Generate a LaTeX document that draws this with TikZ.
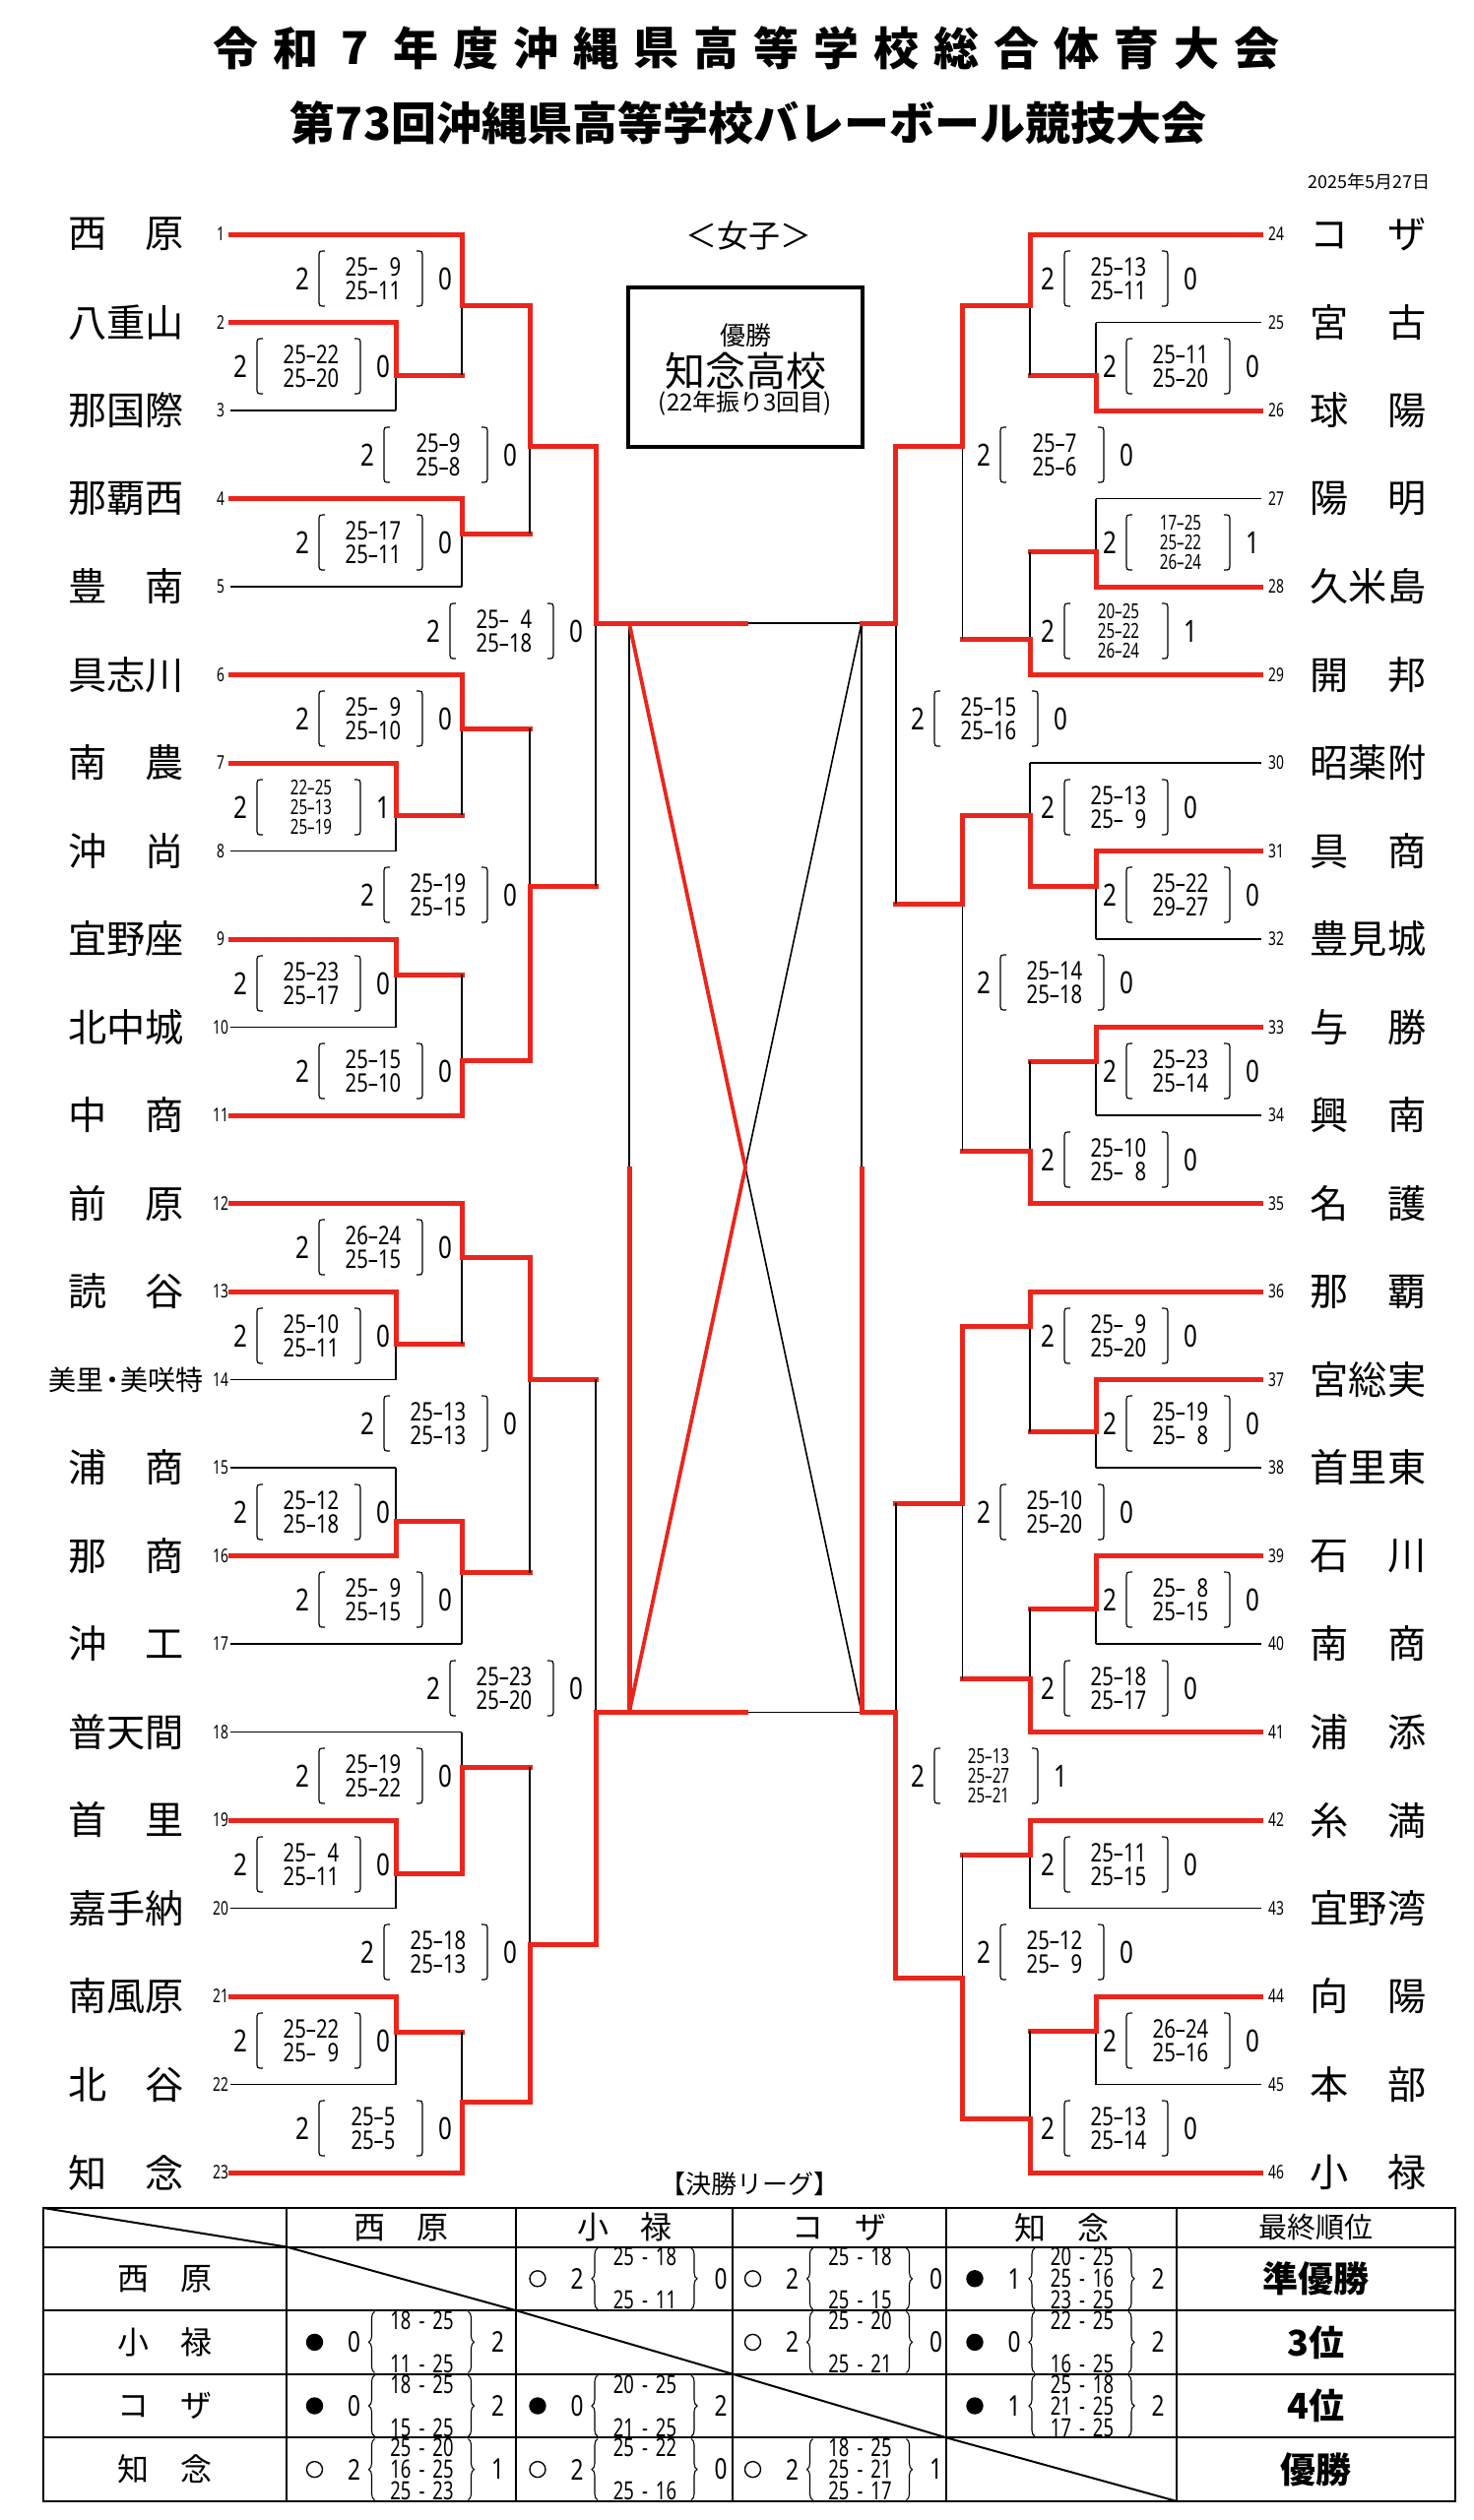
\documentclass[tikz,border=0pt]{standalone}
\usepackage{fontspec}
\setmainfont{Noto Sans CJK JP}
\newfontfamily\numf{Noto Sans}[FakeStretch=0.78]
\newfontfamily\numn{Noto Sans}[FakeStretch=0.72]
\usetikzlibrary{decorations.pathreplacing}
\definecolor{brred}{RGB}{234,38,28}
\tikzset{
  win/.style={draw=brred, line width=2.5pt, line cap=rect},
  lose/.style={draw=black, line width=0.8pt},
  paren/.style={draw=black, line width=0.6pt},
  teamname/.style={inner sep=0pt, font=\fontsize{19.6}{20}\selectfont},
  seednum/.style={inner sep=0pt, font=\numn\fontsize{9.6}{10}\selectfont},
  setnum/.style={inner sep=0pt, font=\numf\fontsize{15.5}{15.5}\selectfont},
  scoreii/.style={inner sep=0pt, align=center, font=\numf\fontsize{13}{12}\selectfont},
  scoreiii/.style={inner sep=0pt, align=center, font=\numn\fontsize{10.5}{10}\selectfont},
  titlechar/.style={inner sep=0pt, font=\bfseries\fontsize{23}{23}\selectfont},
  grid/.style={draw=black, line width=1pt},
  lgnum/.style={inner sep=0pt, font=\numf\fontsize{14.5}{14.5}\selectfont},
  lgscore/.style={inner sep=0pt, align=center, font=\numn\fontsize{12.8}{11}\selectfont},
  lgbrace/.style={draw=black, line width=0.55pt, decorate, decoration={brace, amplitude=3pt}},
  lgname/.style={inner sep=0pt, font=\fontsize{16}{16}\selectfont},
  rank/.style={inner sep=0pt, font=\bfseries\fontsize{18}{18}\selectfont},
}
\newcommand{\sd}{\phantom{0}}
\newcommand{\hy}{\hspace{4pt}-\hspace{4pt}}
\newcommand{\misaki}{{\fontsize{14}{14}\selectfont 美里\kern-.2em・\kern-.2em美咲特}}
\newcommand{\game}[6]{%
  \coordinate (#1) at (#2,#3);
  \draw[#6] (#5) -- (#5 -| #1);
  \draw[lose] (#5 -| #1) -- (#1);
  \draw[win] (#4) -| (#1);
}
\newcommand{\setres}[7]{%
  \node[setnum] (#1w) at (#2-72,#3) {#5};
  \node[setnum] (#1l) at (#2+73,#3) {#6};
  \node[#4] (#1s) at (#2,#3) {#7};
  \draw[paren] (#2-49,#3-28) .. controls (#2-55,#3-28) .. (#2-55,#3-21) -- (#2-55,#3+21) .. controls (#2-55,#3+28) .. (#2-49,#3+28);
  \draw[paren] (#2+44,#3-28) .. controls (#2+50,#3-28) .. (#2+50,#3-21) -- (#2+50,#3+21) .. controls (#2+50,#3+28) .. (#2+44,#3+28);
}
\newcommand{\lgcell}[7]{%
  \draw[line width=0.7pt, fill=#4] (#2-88,#3) circle[radius=8];
  \node[lgnum] (#1a) at (#2-48,#3) {#5};
  \node[lgnum] (#1b) at (#2+98,#3) {#6};
  \node[lgscore] (#1s) at (#2+21,#3) {#7};
  \draw[lgbrace] (#2-27,#3+31) -- (#2-27,#3-31);
  \draw[lgbrace] (#2+68,#3-31) -- (#2+68,#3+31);
}
\begin{document}
\begin{tikzpicture}[x=0.5pt, y=-0.5pt]
\useasboundingbox (0,0) rectangle (1497,2560);

\foreach \c [count=\i] in {令,和,7,年,度,沖,縄,県,高,等,学,校,総,合,体,育,大,会}
  \node[titlechar] (h\i) at ({239+61*(\i-1)},49) {\c};
\node[titlechar] (subtitle) at (760,125) {第73回沖縄県高等学校バレーボール競技大会};
\node[inner sep=0pt, anchor=east, font=\fontsize{9}{9}\selectfont] (date) at (1453,185) {2025年5月27日};
\node[inner sep=0pt, font=\fontsize{16}{16}\selectfont] (girls) at (760,239) {＜女子＞};

\node[draw, line width=1.6pt, minimum width=119pt, minimum height=81pt, inner sep=0pt] (champ) at (757,373) {};
\node[inner sep=0pt, font=\fontsize{13}{13}\selectfont] (yusho) at (757,341) {優勝};
\node[inner sep=0pt, font=\fontsize{20.5}{20.5}\selectfont] (champname) at (757,377) {知念高校};
\node[inner sep=0pt, font=\fontsize{12}{12}\selectfont] (champnote) at (757,410) {(22年振り3回目)};

\foreach \nm [count=\i] in {西　原,八重山,那国際,那覇西,豊　南,具志川,南　農,沖　尚,宜野座,北中城,中　商,前　原,読　谷,\misaki,浦　商,那　商,沖　工,普天間,首　里,嘉手納,南風原,北　谷,知　念}{
  \coordinate (t\i) at (234,{238+89.5*(\i-1)});
  \node[teamname] (n\i) at (128,{238+89.5*(\i-1)}) {\nm};
  \node[seednum] (s\i) at (224,{238+89.5*(\i-1)}) {\i};
}
\foreach \nm [count=\i from 24] in {コ　ザ,宮　古,球　陽,陽　明,久米島,開　邦,昭薬附,具　商,豊見城,与　勝,興　南,名　護,那　覇,宮総実,首里東,石　川,南　商,浦　添,糸　満,宜野湾,向　陽,本　部,小　禄}{
  \coordinate (t\i) at (1280.5,{238+89.5*(\i-24)});
  \node[teamname] (n\i) at (1389.5,{238+89.5*(\i-24)}) {\nm};
  \node[seednum] (s\i) at (1296,{238+89.5*(\i-24)}) {\i};
}

\game{mA}{402}{381}{t2}{t3}{lose}
\game{mB}{469}{310}{t1}{mA}{win}
\game{mC}{469}{542}{t4}{t5}{lose}
\game{mD}{538}{453}{mB}{mC}{win}
\game{mG}{402}{828}{t7}{t8}{lose}
\game{mF}{469}{740}{t6}{mG}{win}
\game{mH}{402}{990}{t9}{t10}{lose}
\game{mI}{469}{1077}{t11}{mH}{win}
\game{mJ}{538}{900}{mI}{mF}{win}
\game{mK}{605}{633}{mD}{mJ}{win}
\game{mL}{402}{1365}{t13}{t14}{lose}
\game{mM}{469}{1277}{t12}{mL}{win}
\game{mN}{402}{1545}{t16}{t15}{lose}
\game{mO}{469}{1597.5}{mN}{t17}{lose}
\game{mP}{538}{1401}{mM}{mO}{win}
\game{mQ}{402}{1903}{t19}{t20}{lose}
\game{mR}{469}{1795}{mQ}{t18}{lose}
\game{mS}{402}{2064}{t21}{t22}{lose}
\game{mT}{469}{2135}{t23}{mS}{win}
\game{mU}{538}{1975.4}{mT}{mR}{win}
\game{mV}{605}{1739.5}{mU}{mP}{win}

\game{rA}{1113}{381}{t26}{t25}{lose}
\game{rB}{1046}{310}{t24}{rA}{win}
\game{rC}{1113}{560.5}{t28}{t27}{lose}
\game{rD}{1046}{649}{t29}{rC}{win}
\game{rE}{977.6}{453}{rB}{rD}{win}
\game{rF}{1113}{900}{t31}{t32}{lose}
\game{rG}{1046}{828}{rF}{t30}{lose}
\game{rH}{1113}{1078}{t33}{t34}{lose}
\game{rI}{1046}{1169}{t35}{rH}{win}
\game{rJ}{977.6}{918}{rG}{rI}{win}
\game{rK}{909.7}{633}{rE}{rJ}{win}
\game{rL}{1113}{1454.7}{t37}{t38}{lose}
\game{rM}{1046}{1347.5}{t36}{rL}{win}
\game{rN}{1113}{1634}{t39}{t40}{lose}
\game{rO}{1046}{1705.7}{t41}{rN}{win}
\game{rP}{977.6}{1527}{rM}{rO}{win}
\game{rQ}{1046}{1884}{t42}{t43}{lose}
\game{rR}{1113}{2063}{t44}{t45}{lose}
\game{rS}{1046}{2152.6}{t46}{rR}{win}
\game{rT}{977.6}{2009.5}{rS}{rQ}{win}
\game{rU}{909.7}{1739.5}{rT}{rP}{win}

\coordinate (fTL) at (639,633);
\coordinate (fTM) at (757,633);
\coordinate (fTR) at (875,633);
\coordinate (fBL) at (639,1739.5);
\coordinate (fBM) at (757,1739.5);
\coordinate (fBR) at (875,1739.5);
\coordinate (fLM) at (639,1187);
\coordinate (fRM) at (875,1187);
\coordinate (fC) at (757,1186);
\draw[lose] (fTM) -- (fTR);
\draw[lose] (fBM) -- (fBR);
\draw[lose] (fTL) -- (fLM);
\draw[lose] (fTR) -- (fRM);
\draw[lose] (fTR) -- (fC) -- (fBR);
\draw[win] (mK) -- (fTM);
\draw[win] (fTR) -- (rK);
\draw[win] (mV) -- (fBM);
\draw[win] (fBR) -- (rU);
\draw[win] (fLM) -- (fBL);
\draw[win] (fRM) -- (fBR);
\draw[win, line width=1.9pt, line cap=butt] (fTL) -- (fC) -- (fBL);

\setres{sA}{316}{372}{scoreii}{2}{0}{25–22\\25–20}
\setres{sB}{379}{283}{scoreii}{2}{0}{25–\sd9\\25–11}
\setres{sC}{379}{551}{scoreii}{2}{0}{25–17\\25–11}
\setres{sD}{445}{462}{scoreii}{2}{0}{25–9\\25–8}
\setres{sG}{316}{820}{scoreiii}{2}{1}{22–25\\25–13\\25–19}
\setres{sF}{379}{730}{scoreii}{2}{0}{25–\sd9\\25–10}
\setres{sH}{316}{999}{scoreii}{2}{0}{25–23\\25–17}
\setres{sI}{379}{1088}{scoreii}{2}{0}{25–15\\25–10}
\setres{sJ}{445}{909}{scoreii}{2}{0}{25–19\\25–15}
\setres{sK}{512}{641}{scoreii}{2}{0}{25–\sd4\\25–18}
\setres{sL}{316}{1357}{scoreii}{2}{0}{25–10\\25–11}
\setres{sM}{379}{1267}{scoreii}{2}{0}{26–24\\25–15}
\setres{sN}{316}{1536}{scoreii}{2}{0}{25–12\\25–18}
\setres{sO}{379}{1625}{scoreii}{2}{0}{25–\sd9\\25–15}
\setres{sP}{445}{1446}{scoreii}{2}{0}{25–13\\25–13}
\setres{sQ}{316}{1894}{scoreii}{2}{0}{25–\sd4\\25–11}
\setres{sR}{379}{1804}{scoreii}{2}{0}{25–19\\25–22}
\setres{sS}{316}{2073}{scoreii}{2}{0}{25–22\\25–\sd9}
\setres{sT}{379}{2162}{scoreii}{2}{0}{25–5\\25–5}
\setres{sU}{445}{1983}{scoreii}{2}{0}{25–18\\25–13}
\setres{sV}{512}{1715}{scoreii}{2}{0}{25–23\\25–20}

\setres{qA}{1199}{372}{scoreii}{2}{0}{25–11\\25–20}
\setres{qB}{1136}{283}{scoreii}{2}{0}{25–13\\25–11}
\setres{qC}{1199}{551}{scoreiii}{2}{1}{17–25\\25–22\\26–24}
\setres{qD}{1136}{641}{scoreiii}{2}{1}{20–25\\25–22\\26–24}
\setres{qE}{1071}{462}{scoreii}{2}{0}{25–7\\25–6}
\setres{qK}{1004}{730}{scoreii}{2}{0}{25–15\\25–16}
\setres{qG}{1136}{820}{scoreii}{2}{0}{25–13\\25–\sd9}
\setres{qF}{1199}{909}{scoreii}{2}{0}{25–22\\29–27}
\setres{qJ}{1071}{998}{scoreii}{2}{0}{25–14\\25–18}
\setres{qH}{1199}{1088}{scoreii}{2}{0}{25–23\\25–14}
\setres{qI}{1136}{1178}{scoreii}{2}{0}{25–10\\25–\sd8}
\setres{qM}{1136}{1357}{scoreii}{2}{0}{25–\sd9\\25–20}
\setres{qL}{1199}{1446}{scoreii}{2}{0}{25–19\\25–\sd8}
\setres{qP}{1071}{1536}{scoreii}{2}{0}{25–10\\25–20}
\setres{qN}{1199}{1625}{scoreii}{2}{0}{25–\sd8\\25–15}
\setres{qO}{1136}{1715}{scoreii}{2}{0}{25–18\\25–17}
\setres{qU}{1004}{1804}{scoreiii}{2}{1}{25–13\\25–27\\25–21}
\setres{qQ}{1136}{1894}{scoreii}{2}{0}{25–11\\25–15}
\setres{qT}{1071}{1983}{scoreii}{2}{0}{25–12\\25–\sd9}
\setres{qR}{1199}{2073}{scoreii}{2}{0}{26–24\\25–16}
\setres{qS}{1136}{2162}{scoreii}{2}{0}{25–13\\25–14}

\node[inner sep=0pt, font=\fontsize{13}{13}\selectfont] (league) at (761,2219) {【決勝リーグ】};
\draw[grid] (44,2243) rectangle (1478,2540.9);
\foreach \x in {291,524,744,961,1195} \draw[grid] (\x,2243) -- (\x,2540.9);
\foreach \y in {2282.5,2347.1,2411.7,2476.3} \draw[grid] (44,\y) -- (1478,\y);
\draw[grid] (44,2243) -- (291,2282.5) -- (524,2347.1) -- (744,2411.7) -- (961,2476.3) -- (1195,2540.9);

\node[lgname] (hd1) at (407.5,2262.75) {西　原};
\node[lgname] (hd2) at (634,2262.75) {小　禄};
\node[lgname] (hd3) at (852.5,2262.75) {コ　ザ};
\node[lgname] (hd4) at (1078,2262.75) {知　念};
\node[inner sep=0pt, font=\fontsize{14.5}{14.5}\selectfont] (hd5) at (1336.5,2262.75) {最終順位};
\node[lgname] (rw1) at (167.5,2314.8) {西　原};
\node[lgname] (rw2) at (167.5,2379.4) {小　禄};
\node[lgname] (rw3) at (167.5,2444) {コ　ザ};
\node[lgname] (rw4) at (167.5,2508.6) {知　念};
\node[rank] (rk1) at (1336.5,2314.8) {準優勝};
\node[rank] (rk2) at (1336.5,2379.4) {3位};
\node[rank] (rk3) at (1336.5,2444) {4位};
\node[rank] (rk4) at (1336.5,2508.6) {優勝};

\lgcell{c12}{634}{2314.8}{white}{2}{0}{25\hy18\\\sd\\25\hy11}
\lgcell{c13}{852.5}{2314.8}{white}{2}{0}{25\hy18\\\sd\\25\hy15}
\lgcell{c14}{1078}{2314.8}{black}{1}{2}{20\hy25\\25\hy16\\23\hy25}
\lgcell{c21}{407.5}{2379.4}{black}{0}{2}{18\hy25\\\sd\\11\hy25}
\lgcell{c23}{852.5}{2379.4}{white}{2}{0}{25\hy20\\\sd\\25\hy21}
\lgcell{c24}{1078}{2379.4}{black}{0}{2}{22\hy25\\\sd\\16\hy25}
\lgcell{c31}{407.5}{2444}{black}{0}{2}{18\hy25\\\sd\\15\hy25}
\lgcell{c32}{634}{2444}{black}{0}{2}{20\hy25\\\sd\\21\hy25}
\lgcell{c34}{1078}{2444}{black}{1}{2}{25\hy18\\21\hy25\\17\hy25}
\lgcell{c41}{407.5}{2508.6}{white}{2}{1}{25\hy20\\16\hy25\\25\hy23}
\lgcell{c42}{634}{2508.6}{white}{2}{0}{25\hy22\\\sd\\25\hy16}
\lgcell{c43}{852.5}{2508.6}{white}{2}{1}{18\hy25\\25\hy21\\25\hy17}
\end{tikzpicture}
\end{document}
